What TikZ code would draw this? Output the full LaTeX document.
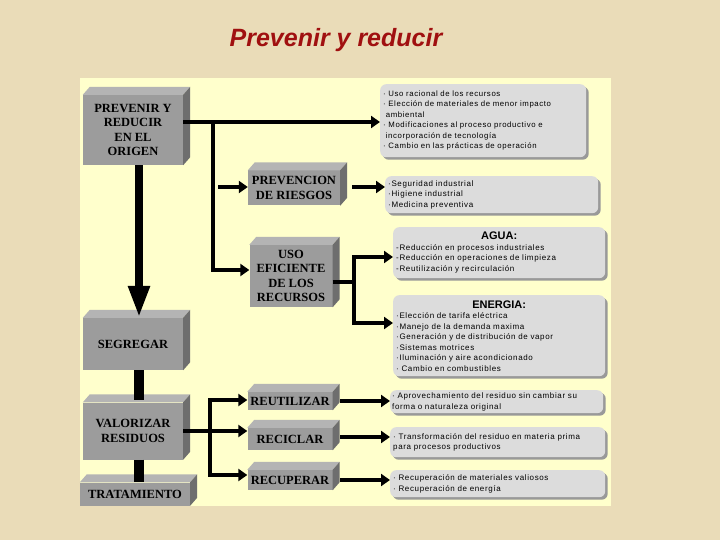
\documentclass[tikz,border=0pt]{standalone}
\usepackage{fontspec}
\setmainfont{Liberation Serif}
\setsansfont{Liberation Sans}
\newfontfamily\spsans[LetterSpace=8]{Liberation Sans}
\usetikzlibrary{arrows.meta,shadows,calc}
\definecolor{parch}{HTML}{EADCB8}
\definecolor{panel}{HTML}{FFFFCC}
\definecolor{gfront}{HTML}{9C9C9C}
\definecolor{gtopc}{HTML}{B4B4B4}
\definecolor{gside}{HTML}{6E6E6E}
\definecolor{rbox}{HTML}{DCDCDC}
\definecolor{ttl}{HTML}{A01010}
\tikzset{
 gb/.style={fill=gfront,inner sep=1pt,align=center,font=\rmfamily\bfseries\fontsize{12.5}{14.5}\selectfont},
 rb/.style={fill=rbox,rounded corners=6pt,inner sep=3pt,align=left,anchor=north west,
   font=\spsans\fontsize{8}{10.5}\selectfont,
   drop shadow={shadow xshift=2.5pt,shadow yshift=-2.5pt,fill=gray!80,opacity=1}},
 ar/.style={line width=4.5pt,-{Triangle[length=9pt,width=12pt]}},
 ln/.style={line width=4.5pt}
}
\newcommand\gbox[6]{%
 \node[gb,minimum width=#4pt,minimum height=#5pt] (#1) at (#2,#3) {#6};
 \fill[gtopc] (#1.north west) -- ++(7,-8) -- ($(#1.north east)+(7,-8)$) -- (#1.north east) -- cycle;
 \fill[gside] (#1.north east) -- ++(7,-8) -- ($(#1.south east)+(7,-8)$) -- (#1.south east) -- cycle;}
\begin{document}
\begin{tikzpicture}[x=1pt,y=-1pt]
\fill[parch] (0,0) rectangle (720,540);
\fill[panel] (80,78) rectangle (611,506);
\node[font=\sffamily\bfseries\itshape\fontsize{25}{28}\selectfont,text=ttl] (title) at (336,40) {Prevenir y reducir};
% gray boxes
\gbox{prev}{133}{130}{100}{70}{PREVENIR Y\\REDUCIR\\EN EL\\ORIGEN}
\gbox{ries}{294}{188}{92}{35}{PREVENCION\\DE RIESGOS}
\gbox{uso}{291}{276}{83}{62}{USO\\EFICIENTE\\DE LOS\\RECURSOS}
\gbox{seg}{133}{344}{100}{52}{SEGREGAR}
\gbox{val}{133}{431}{100}{57}{VALORIZAR\\RESIDUOS}
\gbox{tra}{135}{494}{110}{23}{TRATAMIENTO}
\gbox{reu}{290}{401}{85}{18}{REUTILIZAR}
\gbox{rec}{290}{439}{85}{22}{RECICLAR}
\gbox{recu}{290}{480}{85}{20}{RECUPERAR}
% rounded boxes
\node[rb,text width=200pt,minimum height=73pt,font=\spsans\fontsize{7.8}{10.5}\selectfont] (b1) at (380,84) {%
· Uso racional de los recursos\\· Elección de materiales de menor impacto\\\ ambiental\\· Modificaciones al proceso productivo e\\\ incorporación de tecnología\\· Cambio en las prácticas de operación};
\node[rb,text width=207pt,minimum height=37pt] (b2) at (385,176) {·Seguridad industrial\\·Higiene industrial\\·Medicina preventiva};
\node[rb,text width=206pt,minimum height=51pt] (agua) at (393,227) {\centering{\sffamily\fontsize{11}{12}\selectfont\bfseries AGUA:}\par
\raggedright -Reducción en procesos industriales\\-Reducción en operaciones de limpieza\\-Reutilización y recirculación};
\node[rb,text width=206pt,minimum height=81pt] (ener) at (393,295) {\centering{\sffamily\fontsize{11}{12}\selectfont\bfseries ENERGIA:}\par
\raggedright ·Elección de tarifa eléctrica\\·Manejo de la demanda maxima\\·Generación y de distribución de vapor\\·Sistemas motrices\\·Iluminación y aire acondicionado\\· Cambio en combustibles};
\node[rb,text width=209pt,minimum height=23pt,inner sep=2pt] (r1) at (390,390) {· Aprovechamiento del residuo sin cambiar su\\forma o naturaleza original};
\node[rb,text width=209pt,minimum height=30pt] (r2) at (390,427) {· Transformación del residuo en materia prima\\para procesos productivos};
\node[rb,text width=209pt,minimum height=27pt] (r3) at (390,470) {· Recuperación de materiales valiosos\\· Recuperación de energía};
% connectors
\coordinate (j1) at (213,122);
\coordinate (j2) at (218,187);
\draw[ar] (prev.east |- j1) -- (b1.west |- j1);
\draw[ln] (j1) -- (213,272);
\draw[ar] (211,270) -- (uso.west |- 0,270);
\draw[ar] (j2) -- (ries.west |- j2);
\draw[ar] (352,187) -- (b2.west |- 0,187);
\draw[ln] (uso.east |- 0,282) -- (354,282);
\draw[ln] (354,257) -- (354,323);
\draw[ar] (352,257) -- (agua.west |- 0,257);
\draw[ar] (352,323) -- (ener.west |- 0,323);
\draw[line width=8pt,-{Triangle[length=32pt,width=20pt]}] (prev.south) ++(6,0) coordinate (p1) -- (p1 |- seg.north);
\draw[line width=10pt] (seg.south) ++(6,0) -- ++(0,30) coordinate (p2);
\draw[line width=10pt] (val.south) ++(6,0) -- (tra.north -| 139,0);
\draw[ln] (val.east) -- (210,431);
\draw[ln] (210,398) -- (210,477);
\draw[ar] (208,400) -- (reu.west |- 0,400);
\draw[ar] (208,431) -- (rec.west |- 0,431);
\draw[ar] (208,475) -- (recu.west |- 0,475);
\draw[ar] (340,401) -- (r1.west |- 0,401);
\draw[ar] (340,437) -- (r2.west |- 0,437);
\draw[ar] (340,480) -- (r3.west |- 0,480);
\end{tikzpicture}
\end{document}
